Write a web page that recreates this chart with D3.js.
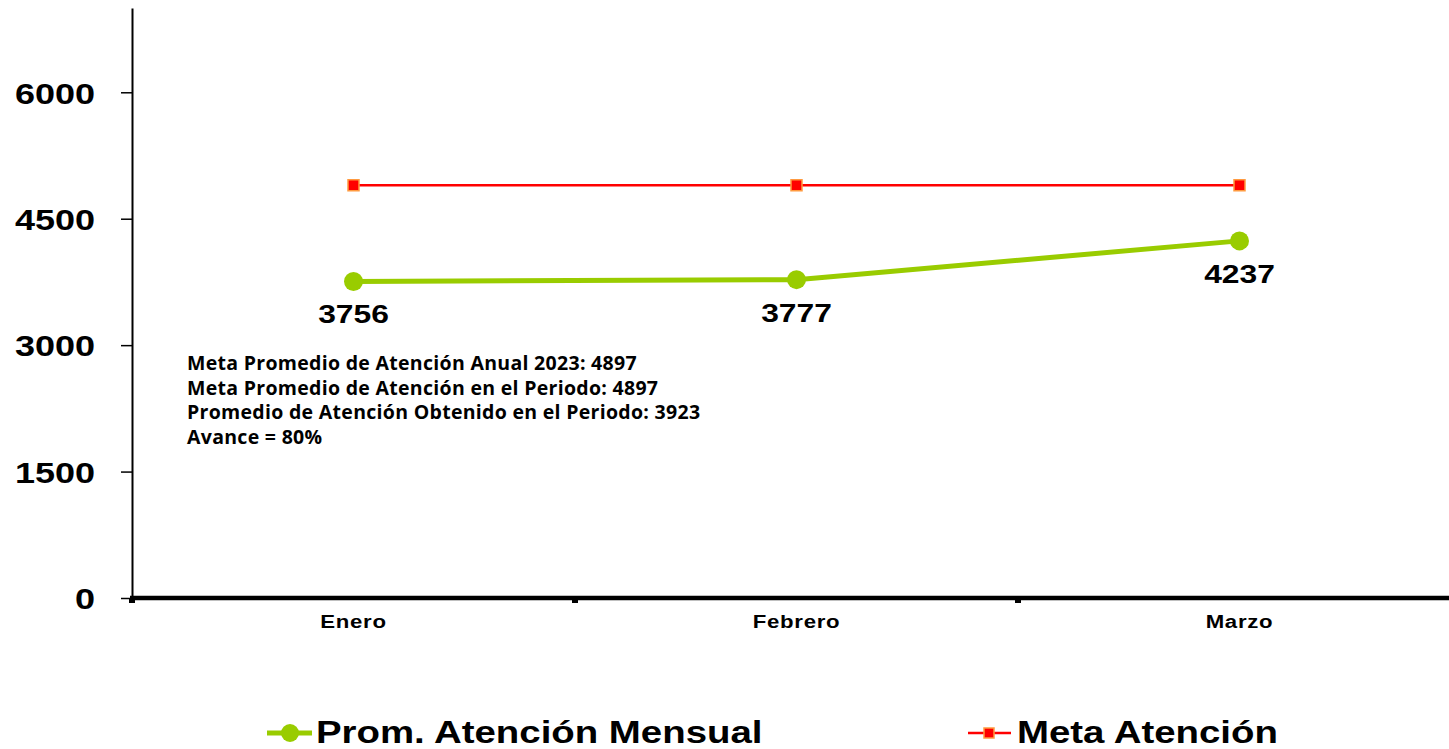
<!DOCTYPE html>
<html><head><meta charset="utf-8">
<script src="https://cdn.jsdelivr.net/npm/d3@7"></script>
<style>body{margin:0;background:#fff;}svg{display:block;}</style>
</head><body>
<svg id="c" width="1449" height="749"></svg>
<script>
const categories = ["Enero", "Febrero", "Marzo"];
const promValues = [3756, 3777, 4237];
const metaValues = [4897, 4897, 4897];
const yTicks = [0, 1500, 3000, 4500, 6000];
const noteLines = [
  "Meta Promedio de Atención Anual 2023: 4897",
  "Meta Promedio de Atención en el Periodo: 4897",
  "Promedio de Atención Obtenido en el Periodo: 3923",
  "Avance = 80%"
];
const legendNames = ["Prom. Atención Mensual", "Meta Atención"];

const FONT = "Liberation Sans, Arial, sans-serif";
const SX = 1.2; // horizontal stretch of the reference's text
const svg = d3.select("#c");
const x0 = 132, band = 443;
const x = d3.scaleBand().domain(categories).range([x0, x0 + band * categories.length]).paddingInner(0).paddingOuter(0);
const y = d3.scaleLinear().domain([0, 7000]).range([598, 8]);
const cx = d => x(d) + x.bandwidth() / 2;

// Y axis
const yAxis = d3.axisLeft(y).tickValues(yTicks).tickSize(11).tickSizeOuter(0).tickPadding(26).tickFormat(d3.format("d"));
const gy = svg.append("g").attr("transform", `translate(${x0},0)`).call(yAxis);
gy.select(".domain").attr("stroke", "#000").attr("stroke-width", 2);
gy.selectAll(".tick line").attr("stroke", "#000").attr("stroke-width", 1.5);
gy.selectAll(".tick text").attr("font-family", FONT)
  .attr("font-weight", "bold").attr("font-size", 30).attr("fill", "#000").attr("dy", "0.36em")
  .attr("x", 0).attr("transform", `translate(-37,0) scale(${SX},1)`);

// X axis
const gx = svg.append("g").attr("transform", `translate(0,${y(0)})`);
gx.append("line").attr("x1", x0 - 2).attr("x2", 1449).attr("y1", 0).attr("y2", 0)
  .attr("stroke", "#000").attr("stroke-width", 4.5);
const bounds = categories.map(c => x(c)).concat([x(categories[categories.length - 1]) + x.bandwidth()]);
gx.selectAll("rect.tk").data(bounds).join("rect").attr("class", "tk")
  .attr("x", d => d - 3).attr("y", 0).attr("width", 6).attr("height", 5).attr("fill", "#000");
gx.selectAll("text").data(categories).join("text")
  .attr("transform", d => `translate(${cx(d)},30) scale(${SX},1)`).attr("text-anchor", "middle")
  .attr("font-family", FONT).attr("font-weight", "bold")
  .attr("font-size", 18.5).attr("letter-spacing", 0.6).attr("fill", "#000").text(d => d);

// Meta line
const line = d3.line().x((d, i) => cx(categories[i])).y(d => y(d));
svg.append("path").datum(metaValues).attr("d", line).attr("fill", "none")
  .attr("stroke", "#FF0000").attr("stroke-width", 2.5);
svg.selectAll("rect.meta").data(metaValues).join("rect").attr("class", "meta")
  .attr("x", (d, i) => cx(categories[i]) - 5.5).attr("y", d => y(d) - 5.5)
  .attr("width", 11).attr("height", 11).attr("fill", "#FF0000")
  .attr("stroke", "#FF9a40").attr("stroke-width", 1.5);

// Prom line
svg.append("path").datum(promValues).attr("d", line).attr("fill", "none")
  .attr("stroke", "#99CC00").attr("stroke-width", 5);
svg.selectAll("circle.prom").data(promValues).join("circle").attr("class", "prom")
  .attr("cx", (d, i) => cx(categories[i])).attr("cy", d => y(d)).attr("r", 9.5)
  .attr("fill", "#99CC00");
svg.selectAll("text.lbl").data(promValues).join("text").attr("class", "lbl")
  .attr("transform", (d, i) => `translate(${cx(categories[i])},${y(d) + 42}) scale(${SX},1)`)
  .attr("text-anchor", "middle").attr("font-family", FONT)
  .attr("font-weight", "bold").attr("font-size", 26.5).attr("fill", "#000")
  .text(d => d);

// Note text
svg.selectAll("text.note").data(noteLines).join("text").attr("class", "note")
  .attr("x", 187).attr("y", (d, i) => 370 + i * 24.6)
  .attr("font-family", "'Open Sans', sans-serif").attr("font-weight", "bold")
  .attr("font-size", 19.5).attr("letter-spacing", 0.3).attr("fill", "#000").text(d => d);

// Legend
const lg = svg.append("g");
lg.append("line").attr("x1", 267).attr("x2", 312).attr("y1", 733).attr("y2", 733)
  .attr("stroke", "#99CC00").attr("stroke-width", 5);
lg.append("circle").attr("cx", 290).attr("cy", 733).attr("r", 9).attr("fill", "#99CC00");
lg.append("text").attr("transform", `translate(316,743) scale(${SX},1)`).attr("font-family", FONT)
  .attr("font-weight", "bold").attr("font-size", 32).attr("fill", "#000").text(legendNames[0]);
lg.append("line").attr("x1", 968).attr("x2", 1011).attr("y1", 733).attr("y2", 733)
  .attr("stroke", "#FF0000").attr("stroke-width", 2.5);
lg.append("rect").attr("x", 984).attr("y", 728).attr("width", 10).attr("height", 10)
  .attr("fill", "#FF0000").attr("stroke", "#FF9a40").attr("stroke-width", 1.5);
lg.append("text").attr("transform", `translate(1017,743) scale(${SX},1)`).attr("font-family", FONT)
  .attr("font-weight", "bold").attr("font-size", 32).attr("fill", "#000").text(legendNames[1]);
</script>
</body></html>
